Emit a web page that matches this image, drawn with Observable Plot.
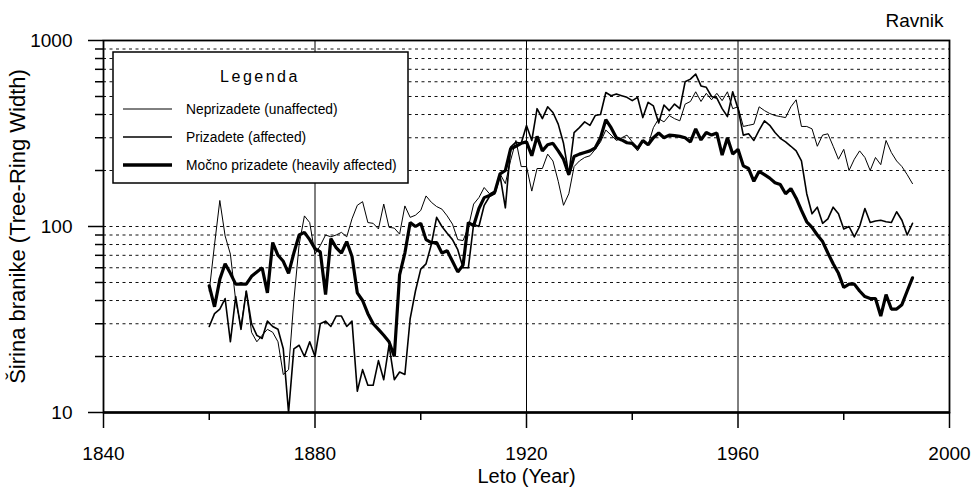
<!DOCTYPE html>
<html>
<head>
<meta charset="utf-8">
<script src="https://cdn.jsdelivr.net/npm/d3@7"></script>
<script src="https://cdn.jsdelivr.net/npm/@observablehq/plot@0.6"></script>
<style>
  html, body { margin: 0; padding: 0; background: #fff; }
  #chart { width: 980px; height: 489px; }
</style>
</head>
<body>
<div id="chart"></div>
<script>
// ---- Data ----
const firstYear = 1860, lastYear = 1993;
const years = d3.range(firstYear, lastYear + 1);

const seriesNames = ["Neprizadete (unaffected)", "Prizadete (affected)", "Močno prizadete (heavily affected)"];

// Neprizadete (unaffected), 1860–1993
const unaffected = [
  45, 80, 138, 89, 71, 40, 29, 45, 27, 24,
  26, 28, 27, 24, 16, 17, 40, 80, 114, 105,
  71, 79, 90, 88, 90, 93, 88, 110, 130, 136,
  105, 104, 97, 132, 99, 98, 91, 129, 112, 115,
  122, 146, 135, 128, 124, 114, 103, 85, 84, 99,
  132, 143, 162, 150, 155, 192, 170, 227, 290, 210,
  210, 155, 205, 205, 245, 225, 175, 130, 150, 210,
  225, 235, 240, 260, 285, 330, 310, 290, 300, 310,
  285, 255, 285, 275, 340, 380, 365, 395, 380, 370,
  455, 470, 530, 470, 520, 480, 520, 475, 530, 430,
  440, 345, 350, 355, 440, 420, 405, 395, 390, 385,
  440, 480, 345, 345, 335, 270, 310, 315, 270, 230,
  260, 200, 230, 255, 235, 200, 235, 215, 290, 250,
  225, 210, 190, 170
];

// Prizadete (affected), 1860–1993
const affected = [
  29, 34, 36, 41, 24, 42, 28, 45, 30, 26,
  25, 31, 29, 28, 22, 10, 22, 23, 20, 24,
  20, 30, 31, 29, 33, 33, 29, 31, 13, 17,
  14, 14, 19, 15, 23, 15, 16.5, 16, 32, 45,
  59, 63, 80, 112, 100, 92, 85, 75, 60, 60,
  103, 100, 130, 145, 150, 188, 126, 267, 284, 280,
  349, 290, 430, 380, 440, 410, 355, 280, 190, 320,
  340, 365, 350, 395, 400, 525, 505, 515, 505, 495,
  475, 495, 385, 465, 445, 360, 450, 420, 455, 430,
  600, 620, 660, 570, 560, 500, 490, 430, 390, 530,
  430, 310, 315, 290, 330, 370, 350, 320, 298, 285,
  270, 255, 225, 150, 117, 127, 104, 110, 127, 117,
  97, 100, 88, 100, 125, 105, 107, 108, 106, 105,
  120, 108, 90, 104
];

// Močno prizadete (heavily affected), 1860–1993
const heavily = [
  48, 37, 52, 63, 56, 49, 49, 49, 54, 57,
  60, 44, 82, 70, 65, 56, 72, 90, 93, 85,
  76, 73, 43, 86, 77, 72, 83, 69, 44, 40,
  34, 30, 28, 26, 24, 20, 55, 72, 105, 100,
  104, 85, 82, 82, 72, 74, 65, 57, 62, 105,
  101, 125, 143, 147, 153, 192, 200, 262, 270, 280,
  285, 240, 305, 255, 275, 280, 255, 230, 190, 238,
  245, 250, 255, 265, 300, 375, 340, 300, 292, 282,
  280, 262, 290, 275, 300, 318, 300, 310, 308, 305,
  300, 285, 335, 292, 320, 310, 318, 242, 300, 245,
  260, 212, 205, 175, 198, 190, 182, 172, 168, 150,
  160, 142, 122, 106, 99, 90, 83, 72, 63, 56,
  47, 49, 49, 45, 42, 41, 41, 33, 43, 36,
  36, 38, 45, 53
];

const majorYTicks = [10, 100, 1000];
const minorYTicks = [20, 30, 40, 50, 60, 70, 80, 90, 200, 300, 400, 500, 600, 700, 800, 900];
const gridYValues = [20, 30, 40, 50, 60, 70, 80, 90, 100, 200, 300, 400, 500, 600, 700, 800, 900];
const majorXTicks = [1840, 1880, 1920, 1960, 2000];
const minorXTicks = [1860, 1900, 1940, 1980];
const verticalLines = [1880, 1920, 1960];

const yTitle = "Širina branike (Tree-Ring Width)";
const xTitle = "Leto (Year)";
const siteTitle = "Ravnik";
const legendTitle = "Legenda";

// ---- Build rows ----
const rows = years.map((year, i) => ({year, N: unaffected[i], P: affected[i], M: heavily[i]}));

const font = "'Liberation Sans', Arial, Helvetica, sans-serif";

const svg = Plot.plot({
  width: 980,
  height: 489,
  marginTop: 40,
  marginRight: 31,
  marginBottom: 77,
  marginLeft: 103,
  style: {fontFamily: font, color: "#000", background: "#fff", overflow: "visible"},
  x: {domain: [1840, 2000]},
  y: {type: "log", domain: [10, 1000]},
  marks: [
    Plot.ruleY(gridYValues, {stroke: "#111", strokeWidth: 1, strokeDasharray: "3,3.5"}),
    Plot.ruleX(verticalLines, {stroke: "#000", strokeWidth: 1}),
    Plot.line(rows, {x: "year", y: "N", stroke: "#000", strokeWidth: 1}),
    Plot.line(rows, {x: "year", y: "P", stroke: "#000", strokeWidth: 1.6}),
    Plot.line(rows, {x: "year", y: "M", stroke: "#000", strokeWidth: 3.2, strokeLinejoin: "miter"}),
    Plot.frame({stroke: "#000", strokeWidth: 1.8}),
    Plot.ruleY([10], {stroke: "#000", strokeWidth: 2.5}),
    Plot.axisY(majorYTicks, {tickSize: 15, tickPadding: 16, fontSize: 19, tickFormat: d => String(d), label: null, strokeWidth: 1.5}),
    Plot.axisY(minorYTicks, {tickSize: 8, tickFormat: () => "", label: null, strokeWidth: 1.5}),
    Plot.axisX(majorXTicks, {tickSize: 16, tickPadding: 18, fontSize: 19, tickFormat: d => String(d), label: null, strokeWidth: 1.5}),
    Plot.axisX(minorXTicks, {tickSize: 8, tickFormat: () => "", label: null, strokeWidth: 1.5}),
    Plot.text([yTitle], {text: d => d, frameAnchor: "left", dx: -86, rotate: -90, fontSize: 22, textAnchor: "middle", lineAnchor: "middle"}),
    Plot.text([xTitle], {text: d => d, frameAnchor: "bottom", dy: 64, fontSize: 20, textAnchor: "middle", lineAnchor: "middle"}),
    Plot.text([siteTitle], {text: d => d, frameAnchor: "top-right", dx: -6, dy: -20, fontSize: 19, textAnchor: "end", lineAnchor: "middle"})
  ]
});

// ---- Legend box (drawn on top of the plot) ----
const g = d3.select(svg).append("g").attr("font-family", font).attr("text-anchor", "start");
g.append("rect")
  .attr("x", 113).attr("y", 52).attr("width", 295).attr("height", 131)
  .attr("fill", "#fff").attr("stroke", "#000").attr("stroke-width", 1.5);
g.append("text")
  .attr("x", 260).attr("y", 76)
  .attr("text-anchor", "middle").attr("dominant-baseline", "central")
  .attr("font-size", 16).attr("letter-spacing", "2.5px")
  .text(legendTitle);
const legendWidths = [1, 1.6, 3.4];
seriesNames.forEach((name, i) => {
  const y = 109 + i * 28;
  g.append("line")
    .attr("x1", 123).attr("x2", 172).attr("y1", y).attr("y2", y)
    .attr("stroke", "#000").attr("stroke-width", legendWidths[i]);
  g.append("text")
    .attr("x", 186).attr("y", y)
    .attr("text-anchor", "start")
    .attr("dominant-baseline", "central")
    .attr("font-size", 13.8)
    .text(name);
});

document.getElementById("chart").appendChild(svg);
</script>
</body>
</html>
